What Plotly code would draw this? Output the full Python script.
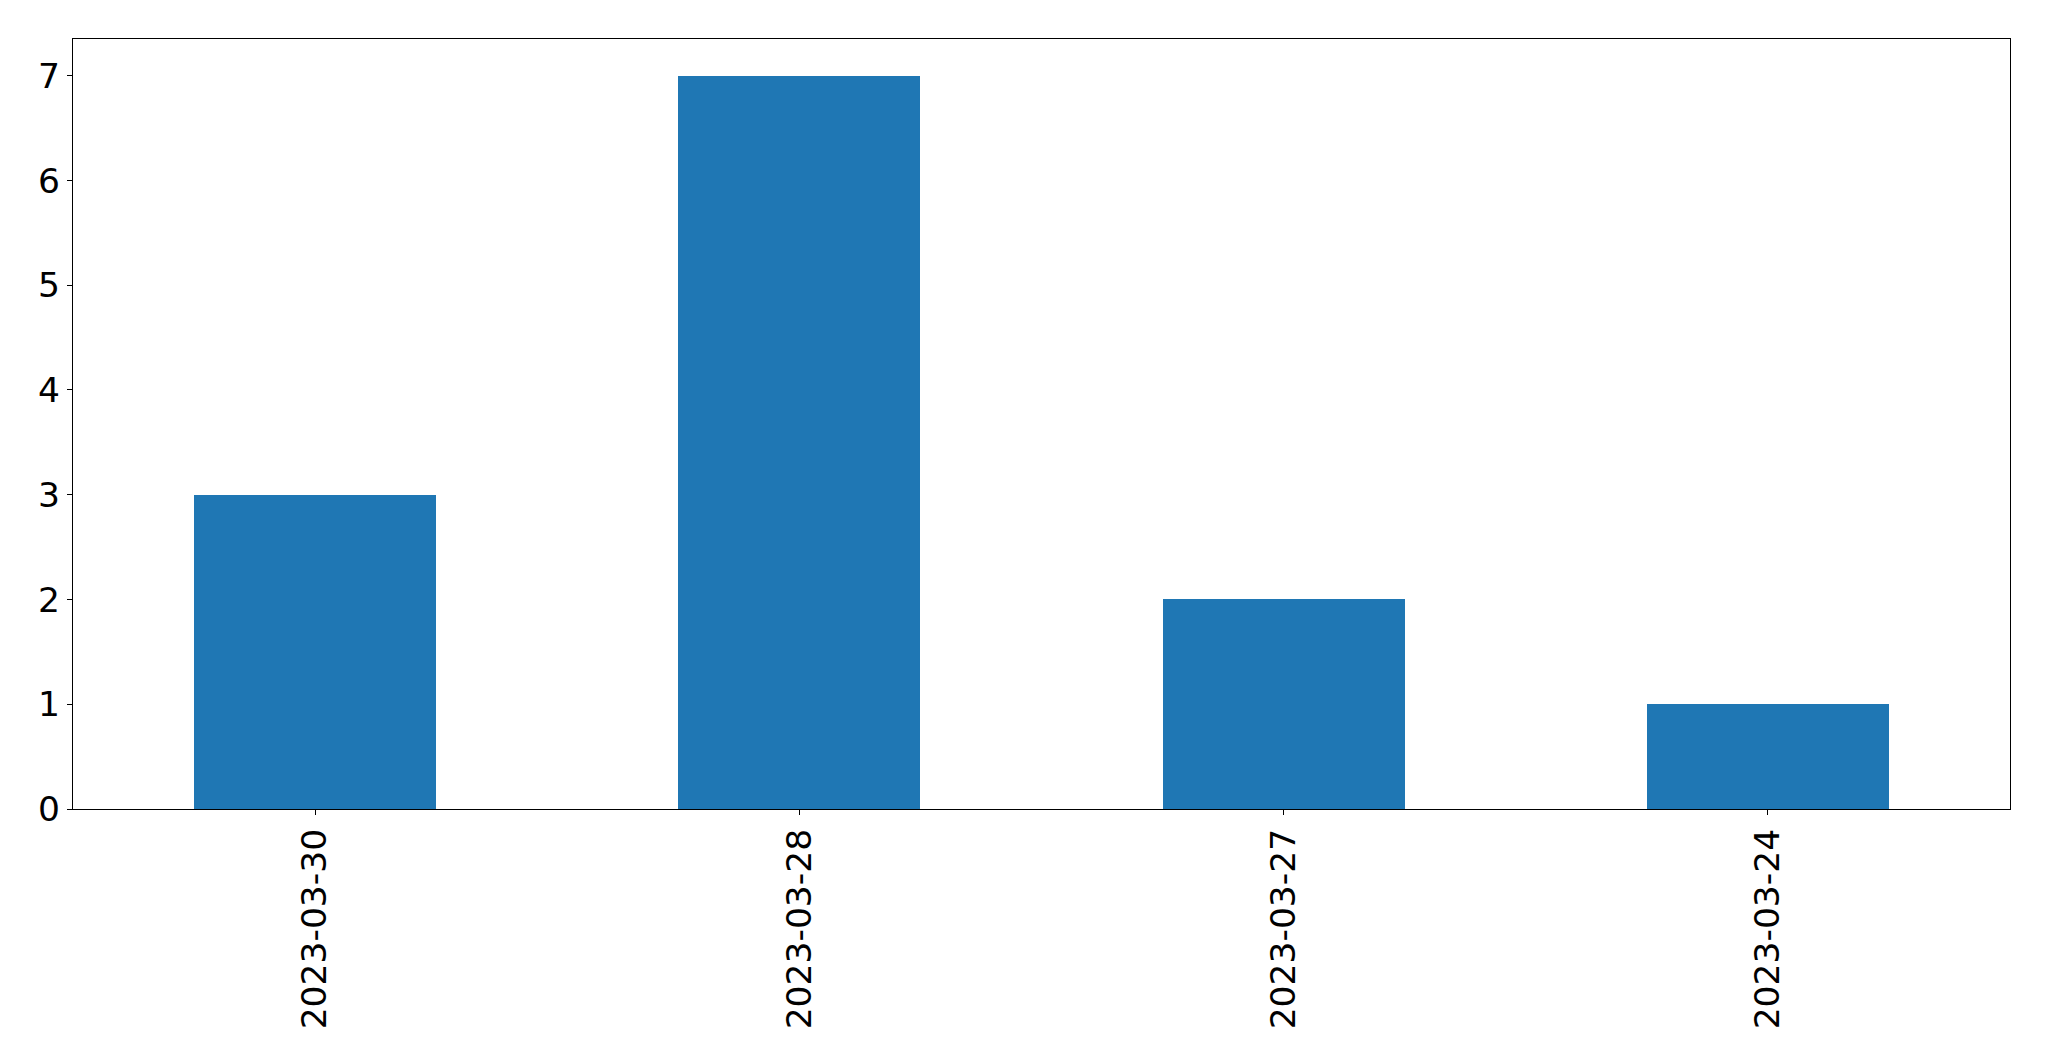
import plotly.graph_objects as go

categories = ["2023-03-30", "2023-03-28", "2023-03-27", "2023-03-24"]
values = [3, 7, 2, 1]
y_ticks = [0, 1, 2, 3, 4, 5, 6, 7]

fig = go.Figure()
fig.add_trace(go.Bar(
    x=list(range(len(categories))),
    y=values,
    width=0.5,
    marker=dict(color="#1f77b4", line=dict(width=0)),
))

# page body has an 8px margin; compensate so plot area matches reference
fig.update_layout(
    width=2033, height=1045,
    margin=dict(l=65, r=31, t=31, b=244, pad=0),
    paper_bgcolor="white", plot_bgcolor="white",
    font=dict(family="DejaVu Sans", size=34.5, color="black"),
    showlegend=False,
    bargap=0,
)
fig.update_xaxes(
    range=[-0.5, len(categories) - 0.5],
    tickmode="array",
    tickvals=list(range(len(categories))),
    ticktext=categories,
    tickangle=-90,
    ticks="outside", ticklen=5, tickwidth=1.1, tickcolor="black",
    showline=True, linecolor="black", linewidth=1.1, mirror=True,
    showgrid=False, zeroline=False,
    tickfont=dict(size=34.5),
)
fig.update_yaxes(
    range=[0, max(values) * 1.05],
    tickmode="array",
    tickvals=y_ticks,
    ticks="outside", ticklen=5, tickwidth=1.1, tickcolor="black",
    showline=True, linecolor="black", linewidth=1.1, mirror=True,
    showgrid=False, zeroline=False,
    tickfont=dict(size=34.5),
)

fig.write_html("out.html")
